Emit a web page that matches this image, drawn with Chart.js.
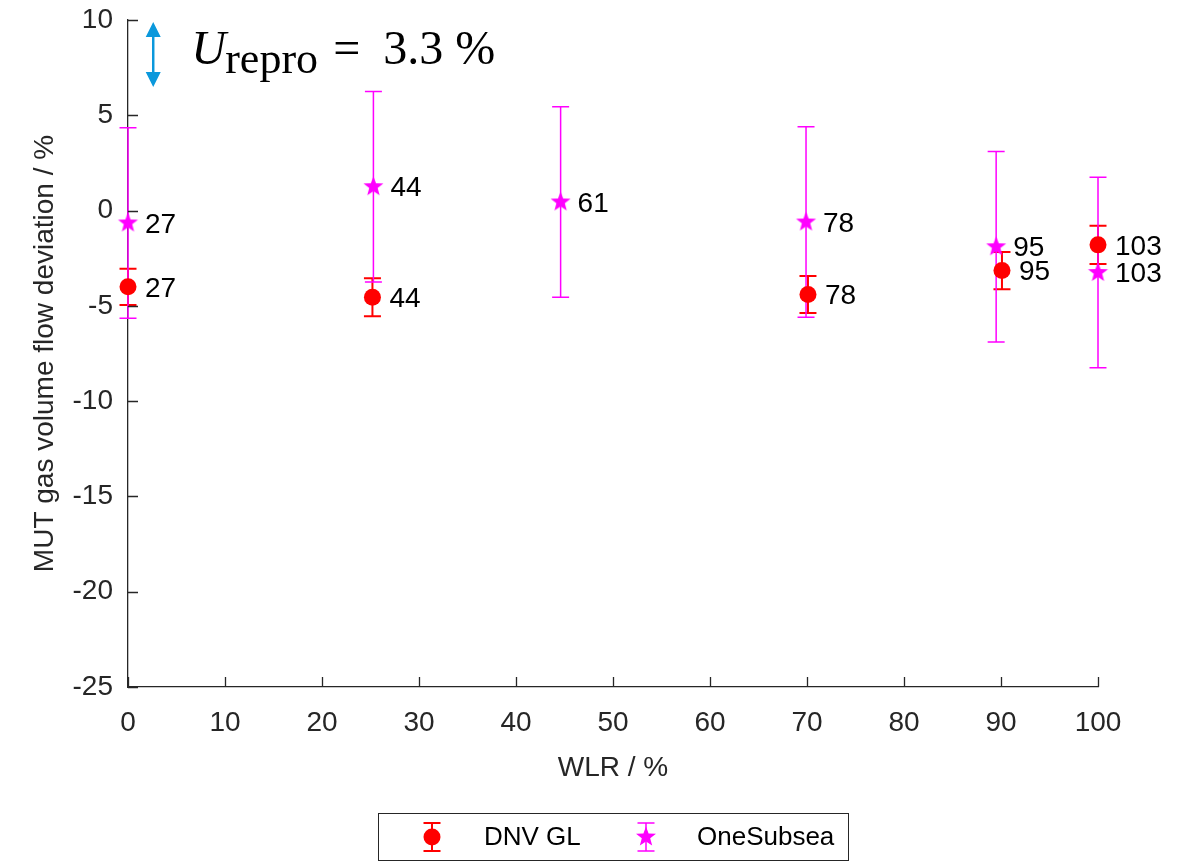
<!DOCTYPE html>
<html>
<head>
<meta charset="utf-8">
<script src="https://cdn.jsdelivr.net/npm/chart.js@4.4.1/dist/chart.umd.min.js"></script>
<style>
  html, body { margin: 0; padding: 0; background: #fff; }
  #wrap { width: 1184px; height: 864px; }
</style>
</head>
<body>
<div id="wrap"><canvas id="chart"></canvas></div>
<script>
// DNV GL reference points
const dnvWlr = [0, 25.2, 70.1, 90.1, 100];
const dnvDev = [-4.0, -4.55, -4.4, -3.15, -1.8];
const dnvErr = [0.95, 1.0, 0.97, 0.98, 1.0];
const dnvLabels = ['27', '44', '78', '95', '103'];

// OneSubsea points
const ossWlr = [0, 25.3, 44.6, 69.9, 89.5, 100];
const ossDev = [-0.65, 1.25, 0.45, -0.6, -1.9, -3.25];
const ossErr = [5.0, 5.0, 5.0, 5.0, 5.0, 5.0];
const ossLabels = ['27', '44', '61', '78', '95', '103'];

const xTicks = [0, 10, 20, 30, 40, 50, 60, 70, 80, 90, 100];
const yTicks = [-25, -20, -15, -10, -5, 0, 5, 10];

// reproducibility annotation
const uRepro = 3.3;
const uArrowX = 2.6;

const RED = '#ff0000';
const MAGENTA = '#ff00ff';
const AXIS = '#262626';

// filled five point star used as marker
function drawStar(ctx, cx, cy, r, color) {
  ctx.fillStyle = color;
  ctx.beginPath();
  for (let i = 0; i < 10; i++) {
    const rad = i % 2 === 0 ? r : r * 0.42;
    const a = -Math.PI / 2 + i * Math.PI / 5;
    const px = cx + rad * Math.cos(a);
    const py = cy + rad * Math.sin(a);
    if (i === 0) ctx.moveTo(px, py); else ctx.lineTo(px, py);
  }
  ctx.closePath();
  ctx.fill();
}

function makeStar(r, color) {
  const c = document.createElement('canvas');
  const s = Math.ceil(r * 2 + 2);
  c.width = s; c.height = s;
  drawStar(c.getContext('2d'), s / 2, s / 2, r, color);
  return c;
}
const starImg = makeStar(10.5, MAGENTA);

function errBar(ctx, px, top, bot, color, lw) {
  ctx.strokeStyle = color;
  ctx.lineWidth = lw;
  ctx.beginPath();
  ctx.moveTo(px, top); ctx.lineTo(px, bot);
  ctx.moveTo(px - 8.5, top); ctx.lineTo(px + 8.5, top);
  ctx.moveTo(px - 8.5, bot); ctx.lineTo(px + 8.5, bot);
  ctx.stroke();
}

const errorBars = {
  id: 'errorBars',
  beforeDatasetsDraw(chart) {
    const { ctx, scales: { x, y } } = chart;
    ctx.save();
    dnvWlr.forEach((w, i) => {
      errBar(ctx, x.getPixelForValue(w), y.getPixelForValue(dnvDev[i] + dnvErr[i]),
        y.getPixelForValue(dnvDev[i] - dnvErr[i]), RED, 2);
    });
    ossWlr.forEach((w, i) => {
      errBar(ctx, x.getPixelForValue(w), y.getPixelForValue(ossDev[i] + ossErr[i]),
        y.getPixelForValue(ossDev[i] - ossErr[i]), MAGENTA, 1.5);
    });
    ctx.restore();
  }
};

const extras = {
  id: 'extras',
  afterDraw(chart) {
    const { ctx, scales: { x, y } } = chart;
    ctx.save();

    // inward tick marks
    ctx.strokeStyle = AXIS;
    ctx.lineWidth = 1.3;
    ctx.beginPath();
    const y0 = y.getPixelForValue(-25);
    const x0 = x.getPixelForValue(0);
    xTicks.forEach(t => {
      const px = Math.round(x.getPixelForValue(t)) + 0.5;
      ctx.moveTo(px, y0); ctx.lineTo(px, y0 - 10);
    });
    yTicks.forEach(t => {
      const py = Math.round(y.getPixelForValue(t)) + 0.5;
      ctx.moveTo(x0, py); ctx.lineTo(x0 + 10, py);
    });
    ctx.stroke();

    // point labels
    ctx.fillStyle = '#000';
    ctx.font = '28px "Liberation Sans", Arial, sans-serif';
    ctx.textAlign = 'left';
    ctx.textBaseline = 'middle';
    dnvWlr.forEach((w, i) => {
      ctx.fillText(dnvLabels[i], x.getPixelForValue(w) + 17, y.getPixelForValue(dnvDev[i]) + 2);
    });
    ossWlr.forEach((w, i) => {
      ctx.fillText(ossLabels[i], x.getPixelForValue(w) + 17, y.getPixelForValue(ossDev[i]) + 2);
    });

    // U_repro arrow
    const ax = x.getPixelForValue(uArrowX);
    const aTop = y.getPixelForValue(10) + 2;
    const aBot = y.getPixelForValue(10 - uRepro) + 4;
    ctx.strokeStyle = '#0a98dc';
    ctx.fillStyle = '#0a98dc';
    ctx.lineWidth = 2.5;
    ctx.beginPath();
    ctx.moveTo(ax, aTop + 10); ctx.lineTo(ax, aBot - 10);
    ctx.stroke();
    ctx.beginPath();
    ctx.moveTo(ax, aTop); ctx.lineTo(ax - 7.5, aTop + 15); ctx.lineTo(ax + 7.5, aTop + 15); ctx.closePath();
    ctx.moveTo(ax, aBot); ctx.lineTo(ax - 7.5, aBot - 15); ctx.lineTo(ax + 7.5, aBot - 15); ctx.closePath();
    ctx.fill();

    // U_repro text
    ctx.fillStyle = '#000';
    ctx.textBaseline = 'alphabetic';
    ctx.font = 'italic 48px "Liberation Serif", serif';
    ctx.fillText('U', ax + 38, 64);
    ctx.font = '44px "Liberation Serif", serif';
    ctx.fillText('repro', ax + 72, 73);
    ctx.font = '48px "Liberation Serif", serif';
    ctx.fillText('=', ax + 180, 64);
    ctx.fillText('3.3 %', ax + 230, 64);

    // legend
    const lx = 378.5, ly = 813.5, lw = 470, lh = 47;
    ctx.strokeStyle = AXIS;
    ctx.lineWidth = 1;
    ctx.fillStyle = '#fff';
    ctx.fillRect(lx, ly, lw, lh);
    ctx.strokeRect(lx, ly, lw, lh);
    const cy = ly + lh / 2;
    errBar(ctx, 432, cy - 14, cy + 14, RED, 2);
    ctx.fillStyle = RED;
    ctx.beginPath(); ctx.arc(432, cy, 8.5, 0, Math.PI * 2); ctx.fill();
    errBar(ctx, 646, cy - 14, cy + 14, MAGENTA, 1.5);
    drawStar(ctx, 646, cy, 10.5, MAGENTA);
    ctx.fillStyle = '#000';
    ctx.font = '26px "Liberation Sans", Arial, sans-serif';
    ctx.textBaseline = 'middle';
    ctx.fillText('DNV GL', 484, cy + 1);
    ctx.fillText('OneSubsea', 697, cy + 1);

    ctx.restore();
  }
};

const toPts = (xs, ys) => xs.map((v, i) => ({ x: v, y: ys[i] }));

new Chart(document.getElementById('chart'), {
  type: 'scatter',
  data: {
    datasets: [
      {
        label: 'DNV GL',
        data: toPts(dnvWlr, dnvDev),
        pointStyle: 'circle',
        pointRadius: 8.5,
        pointHoverRadius: 8.5,
        backgroundColor: RED,
        borderColor: RED,
        borderWidth: 0,
        clip: false
      },
      {
        label: 'OneSubsea',
        data: toPts(ossWlr, ossDev),
        pointStyle: starImg,
        pointRadius: 10,
        backgroundColor: MAGENTA,
        borderColor: MAGENTA,
        clip: false
      }
    ]
  },
  options: {
    responsive: true,
    maintainAspectRatio: false,
    animation: false,
    layout: { padding: { left: 0, top: 20, right: 86, bottom: 0 } },
    plugins: {
      legend: { display: false },
      tooltip: { enabled: false }
    },
    scales: {
      x: {
        type: 'linear',
        min: 0, max: 100,
        afterBuildTicks: s => { s.ticks = xTicks.map(v => ({ value: v })); },
        afterFit: s => { s.height = 177; s.paddingLeft = 0; s.paddingRight = 0; },
        grid: { display: false, drawTicks: false },
        border: { display: true, color: AXIS, width: 1.3 },
        ticks: {
          color: AXIS,
          padding: 19,
          maxRotation: 0,
          autoSkip: false,
          font: { family: '"Liberation Sans", Arial, sans-serif', size: 28 }
        },
        title: {
          display: true,
          text: 'WLR / %',
          color: AXIS,
          font: { family: '"Liberation Sans", Arial, sans-serif', size: 28 },
          padding: { top: 0, bottom: 79 }
        }
      },
      y: {
        type: 'linear',
        min: -25, max: 10,
        afterBuildTicks: s => { s.ticks = yTicks.map(v => ({ value: v })); },
        afterFit: s => { s.width = 128; s.paddingTop = 0; s.paddingBottom = 0; },
        grid: { display: false, drawTicks: false },
        border: { display: true, color: AXIS, width: 1.3 },
        ticks: {
          color: AXIS,
          padding: 15,
          autoSkip: false,
          font: { family: '"Liberation Sans", Arial, sans-serif', size: 28 }
        },
        title: {
          display: true,
          text: 'MUT gas volume flow deviation / %',
          color: AXIS,
          font: { family: '"Liberation Sans", Arial, sans-serif', size: 28 },
          padding: { top: 28, bottom: 0 }
        }
      }
    }
  },
  plugins: [errorBars, extras]
});
</script>
</body>
</html>
